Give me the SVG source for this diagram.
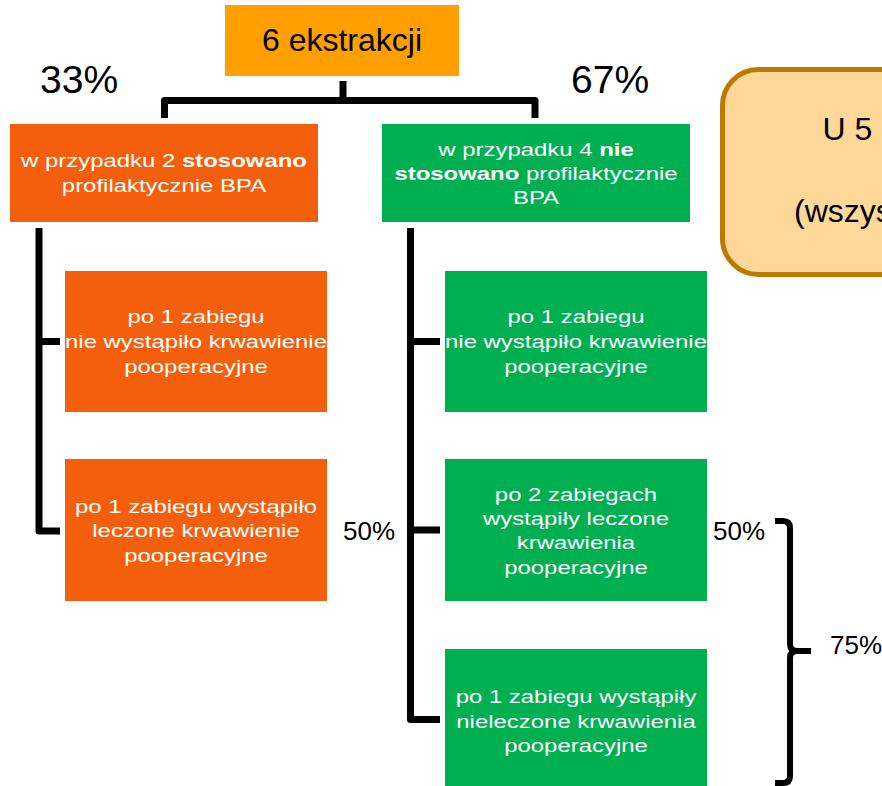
<svg xmlns="http://www.w3.org/2000/svg" width="882" height="786" viewBox="0 0 882 786">
<style>
.bg{fill:#FFFFFF}
.top{fill:#FFA000}
.or{fill:#F45F0D}
.gr{fill:#00B050}
.note{fill:#FED898;stroke:#BF7800;stroke-width:5}
.conn{fill:none;stroke:#000000;stroke-width:7;stroke-linejoin:round;stroke-linecap:butt}
.bt{font-family:"Liberation Sans",Arial,sans-serif;font-size:18.7px;fill:#FFFFFF;text-anchor:middle}
.lbl{font-family:"Liberation Sans",Arial,sans-serif;fill:#000000}
.b{font-weight:bold}
</style>
<rect class="bg" x="0" y="0" width="882" height="786"/>

<g id="connectors">
  <path class="conn" d="M343 81 V100.5 M164.5 118 V100.5 H535 V118"/>
  <path class="conn" d="M39 228 V531 H60 M39 341.5 H60"/>
  <path class="conn" d="M410.5 228 V719.5 H440 M410.5 341.5 H440 M410.5 530 H440"/>
  <path class="conn" d="M775 521 H783 Q790 521 790 528 V644 Q790 651 797 651 H811 M797 651 Q790 651 790 658 V776 Q790 783 783 783 H775" style="stroke-width:6"/>
</g>

<g id="root">
  <rect class="top" x="225" y="5" width="234" height="71"/>
  <text class="lbl" x="342" y="51" font-size="32" text-anchor="middle">6 ekstrakcji</text>
</g>

<g id="pct33"><text class="lbl" x="40" y="92.5" font-size="39">33%</text></g>
<g id="pct67"><text class="lbl" x="571" y="92.5" font-size="39">67%</text></g>

<g id="note">
  <rect class="note" x="722.5" y="69.5" width="220" height="205" rx="36" ry="36"/>
  <text class="lbl" x="822.5" y="140" font-size="32">U 5</text>
  <text class="lbl" x="794" y="222" font-size="32">(wszys</text>
</g>

<g id="orange1">
  <rect class="or" x="10" y="124" width="308" height="98"/>
  <g transform="translate(164 0) scale(1.28 1)">
    <text class="bt" x="0" y="167">w przypadku 2 <tspan class="b">stosowano</tspan></text>
    <text class="bt" x="0" y="192">profilaktycznie BPA</text>
  </g>
</g>

<g id="green1">
  <rect class="gr" x="382" y="124" width="308" height="98"/>
  <g transform="translate(536 0) scale(1.28 1)">
    <text class="bt" x="0" y="156">w przypadku 4 <tspan class="b">nie</tspan></text>
    <text class="bt" x="0" y="180"><tspan class="b">stosowano</tspan> profilaktycznie</text>
    <text class="bt" x="0" y="204">BPA</text>
  </g>
</g>

<g id="orange2">
  <rect class="or" x="65" y="271" width="262" height="141"/>
  <g transform="translate(196 0) scale(1.28 1)">
    <text class="bt" x="0" y="323">po 1 zabiegu</text>
    <text class="bt" x="0" y="348">nie wystąpiło krwawienie</text>
    <text class="bt" x="0" y="373">pooperacyjne</text>
  </g>
</g>

<g id="orange3">
  <rect class="or" x="65" y="459" width="262" height="142"/>
  <g transform="translate(196 0) scale(1.28 1)">
    <text class="bt" x="0" y="513">po 1 zabiegu wystąpiło</text>
    <text class="bt" x="0" y="537">leczone krwawienie</text>
    <text class="bt" x="0" y="562">pooperacyjne</text>
  </g>
</g>

<g id="green2">
  <rect class="gr" x="445" y="271" width="262" height="141"/>
  <g transform="translate(576 0) scale(1.28 1)">
    <text class="bt" x="0" y="323">po 1 zabiegu</text>
    <text class="bt" x="0" y="348">nie wystąpiło krwawienie</text>
    <text class="bt" x="0" y="373">pooperacyjne</text>
  </g>
</g>

<g id="green3">
  <rect class="gr" x="445" y="459" width="262" height="142"/>
  <g transform="translate(576 0) scale(1.28 1)">
    <text class="bt" x="0" y="501">po 2 zabiegach</text>
    <text class="bt" x="0" y="525">wystąpiły leczone</text>
    <text class="bt" x="0" y="549">krwawienia</text>
    <text class="bt" x="0" y="574">pooperacyjne</text>
  </g>
</g>

<g id="green4">
  <rect class="gr" x="445" y="649" width="262" height="142"/>
  <g transform="translate(576 0) scale(1.28 1)">
    <text class="bt" x="0" y="703">po 1 zabiegu wystąpiły</text>
    <text class="bt" x="0" y="728">nieleczone krwawienia</text>
    <text class="bt" x="0" y="752">pooperacyjne</text>
  </g>
</g>

<g id="pct50a"><text class="lbl" x="343" y="540" font-size="26">50%</text></g>
<g id="pct50b"><text class="lbl" x="713" y="540" font-size="26">50%</text></g>
<g id="pct75"><text class="lbl" x="830" y="654" font-size="26">75%</text></g>
</svg>
